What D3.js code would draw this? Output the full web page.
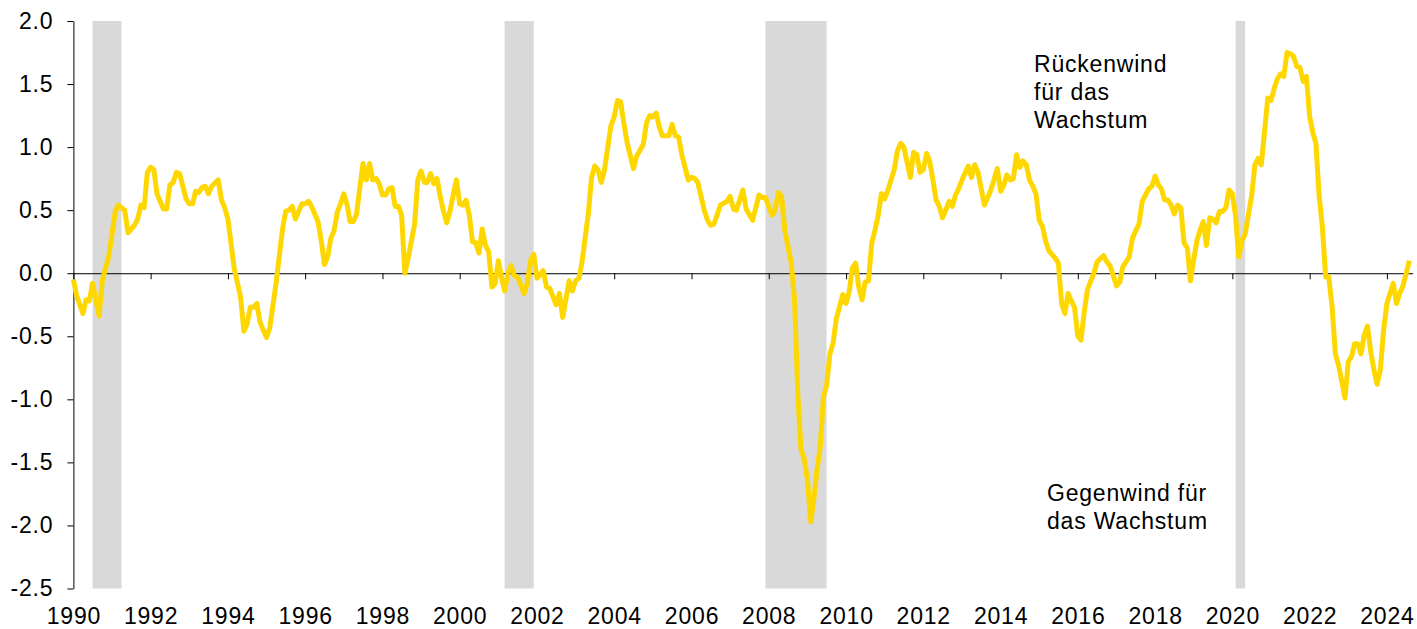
<!DOCTYPE html>
<html>
<head>
<meta charset="utf-8">
<script src="https://cdn.jsdelivr.net/npm/d3@7"></script>
<style>
  html, body { margin: 0; padding: 0; background: #fff; }
  svg { display: block; font-family: "Liberation Sans", Arial, sans-serif; }
  .axis text { font-size: 23px; letter-spacing: 0.8px; fill: #000; }
  .axis path, .axis line { stroke: #000; }
  .note { font-size: 23px; letter-spacing: 0.8px; fill: #000; }
</style>
</head>
<body>
<div id="chart"></div>
<script>
// monthly readings (gaps are straight segments between read points)
const months = [
  '1990-01','1990-02','1990-04','1990-05','1990-06','1990-07','1990-09','1990-10','1990-11','1990-12',
  '1991-02','1991-03','1991-05','1991-06','1991-08','1991-09','1991-10','1991-11','1991-12',
  '1992-01','1992-02','1992-03','1992-05','1992-06','1992-07','1992-08','1992-09','1992-10','1992-12',
  '1993-01','1993-02','1993-03','1993-04','1993-05','1993-06','1993-07','1993-08','1993-10','1993-11','1993-12',
  '1994-01','1994-03','1994-05','1994-06','1994-07','1994-08','1994-09','1994-10','1994-11','1994-12',
  '1995-01','1995-02','1995-04','1995-06','1995-07','1995-08','1995-09','1995-10','1995-12',
  '1996-01','1996-02','1996-03','1996-05','1996-06','1996-07','1996-08','1996-09','1996-10','1996-11','1996-12',
  '1997-01','1997-02','1997-03','1997-04','1997-05','1997-06','1997-07','1997-08','1997-09','1997-10','1997-11','1997-12',
  '1998-01','1998-02','1998-03','1998-04','1998-05','1998-06','1998-07','1998-08','1998-09','1998-11','1998-12',
  '1999-01','1999-02','1999-03','1999-04','1999-05','1999-06','1999-07','1999-08','1999-09','1999-10','1999-11','1999-12',
  '2000-01','2000-02','2000-03','2000-04','2000-05','2000-06','2000-07','2000-08','2000-09','2000-10','2000-11','2000-12',
  '2001-01','2001-02','2001-03','2001-04','2001-05','2001-06','2001-07','2001-09','2001-10','2001-11','2001-12',
  '2002-01','2002-03','2002-04','2002-05','2002-07','2002-08','2002-09','2002-11','2002-12',
  '2003-01','2003-02','2003-03','2003-05','2003-06','2003-07','2003-08','2003-09','2003-10','2003-12',
  '2004-01','2004-02','2004-03','2004-04','2004-05','2004-07','2004-08','2004-10','2004-11','2004-12',
  '2005-01','2005-02','2005-03','2005-04','2005-06','2005-07','2005-08','2005-09','2005-10','2005-12',
  '2006-01','2006-02','2006-03','2006-05','2006-06','2006-07','2006-08','2006-10','2006-12',
  '2007-01','2007-02','2007-03','2007-05','2007-06','2007-08','2007-10','2007-11','2007-12',
  '2008-02','2008-03','2008-04','2008-05','2008-06','2008-08','2008-09','2008-10','2008-11','2008-12',
  '2009-01','2009-02','2009-03','2009-04','2009-05','2009-06','2009-07','2009-08','2009-09','2009-10','2009-12',
  '2010-01','2010-02','2010-03','2010-04','2010-05','2010-06','2010-07','2010-08','2010-09','2010-10','2010-11','2010-12',
  '2011-01','2011-02','2011-04','2011-05','2011-06','2011-07','2011-09','2011-10','2011-11','2011-12',
  '2012-01','2012-02','2012-03','2012-04','2012-05','2012-06','2012-07','2012-08','2012-09','2012-10','2012-11','2012-12',
  '2013-01','2013-03','2013-04','2013-05','2013-06','2013-08','2013-09','2013-10','2013-12',
  '2014-01','2014-02','2014-03','2014-04','2014-05','2014-06','2014-07','2014-08','2014-09','2014-10','2014-11','2014-12',
  '2015-01','2015-02','2015-03','2015-04','2015-06','2015-07','2015-08','2015-09','2015-10','2015-11','2015-12',
  '2016-01','2016-02','2016-03','2016-04','2016-06','2016-07','2016-09','2016-10','2016-11',
  '2017-01','2017-02','2017-03','2017-05','2017-06','2017-08','2017-09','2017-10','2017-11','2017-12',
  '2018-01','2018-02','2018-03','2018-04','2018-05','2018-06','2018-07','2018-08','2018-09','2018-10','2018-11','2018-12',
  '2019-01','2019-02','2019-03','2019-04','2019-05','2019-06','2019-07','2019-08','2019-09','2019-10','2019-11','2019-12',
  '2020-01','2020-02','2020-03','2020-04','2020-05','2020-07','2020-08','2020-09','2020-10','2020-11','2020-12',
  '2021-01','2021-02','2021-03','2021-04','2021-05','2021-06','2021-07','2021-08','2021-09','2021-10','2021-11','2021-12',
  '2022-01','2022-02','2022-03','2022-04','2022-05','2022-06','2022-07','2022-08','2022-09','2022-10','2022-11','2022-12',
  '2023-01','2023-02','2023-03','2023-04','2023-05','2023-06','2023-07','2023-08','2023-09','2023-10','2023-11','2023-12',
  '2024-01','2024-03','2024-04','2024-05','2024-06','2024-08'
];

const values = [
  -0.05,-0.18,-0.32,-0.21,-0.22,-0.08,-0.34,-0.06,0.04,0.13,
  0.49,0.54,0.50,0.32,0.38,0.43,0.54,0.52,0.80,
  0.84,0.82,0.63,0.51,0.51,0.70,0.72,0.80,0.79,0.59,
  0.55,0.55,0.65,0.64,0.68,0.69,0.63,0.69,0.74,0.58,0.52,
  0.43,0.04,-0.19,-0.46,-0.40,-0.27,-0.27,-0.24,-0.39,-0.45,
  -0.51,-0.43,-0.08,0.35,0.49,0.50,0.53,0.43,0.55,
  0.55,0.57,0.53,0.41,0.26,0.07,0.13,0.28,0.34,0.49,0.55,
  0.63,0.54,0.41,0.41,0.47,0.68,0.87,0.74,0.87,0.74,0.75,0.71,
  0.62,0.62,0.67,0.68,0.53,0.53,0.46,0.00,0.12,0.39,0.74,
  0.81,0.72,0.72,0.79,0.71,0.75,0.61,0.49,0.40,0.49,0.62,0.74,
  0.55,0.54,0.58,0.46,0.25,0.24,0.16,0.35,0.22,0.17,-0.11,-0.08,
  0.10,-0.04,-0.14,0.00,0.06,-0.02,-0.03,-0.16,-0.08,0.10,0.15,
  -0.04,0.02,-0.11,-0.12,-0.25,-0.16,-0.35,-0.06,-0.14,
  -0.06,-0.04,0.08,0.47,0.76,0.85,0.82,0.72,0.82,1.17,
  1.24,1.37,1.36,1.19,1.04,0.83,0.93,1.02,1.19,1.25,
  1.24,1.27,1.16,1.09,1.09,1.18,1.09,1.08,0.94,0.74,
  0.76,0.75,0.72,0.50,0.42,0.38,0.39,0.54,0.57,
  0.61,0.51,0.50,0.66,0.51,0.42,0.62,0.60,0.60,
  0.46,0.50,0.64,0.61,0.34,0.08,-0.21,-0.95,-1.40,-1.47,
  -1.64,-1.97,-1.80,-1.56,-1.38,-0.98,-0.89,-0.64,-0.55,-0.36,-0.17,
  -0.24,-0.14,0.04,0.08,-0.11,-0.21,-0.07,-0.06,0.24,0.34,0.46,0.63,
  0.59,0.66,0.82,0.97,1.03,1.00,0.76,0.96,0.94,0.80,
  0.82,0.95,0.89,0.74,0.58,0.53,0.44,0.50,0.57,0.53,0.62,0.67,
  0.74,0.85,0.76,0.86,0.80,0.54,0.60,0.66,0.83,
  0.65,0.70,0.78,0.74,0.75,0.94,0.84,0.89,0.86,0.74,0.69,0.63,
  0.42,0.37,0.26,0.18,0.12,0.08,-0.24,-0.32,-0.16,-0.22,-0.27,
  -0.50,-0.53,-0.31,-0.13,0.00,0.09,0.14,0.09,0.06,
  -0.10,-0.07,0.05,0.13,0.28,0.39,0.57,0.62,0.67,0.69,
  0.77,0.70,0.67,0.58,0.58,0.54,0.47,0.54,0.52,0.24,0.20,-0.06,
  0.11,0.26,0.34,0.41,0.22,0.44,0.43,0.40,0.49,0.49,0.52,0.66,
  0.63,0.45,0.13,0.26,0.31,0.61,0.86,0.91,0.86,1.13,1.39,
  1.37,1.47,1.54,1.58,1.56,1.75,1.74,1.72,1.64,1.63,1.52,1.56,
  1.24,1.11,1.03,0.61,0.37,-0.03,-0.03,-0.27,-0.64,-0.73,-0.86,-0.99,
  -0.70,-0.66,-0.56,-0.56,-0.64,-0.49,-0.42,-0.62,-0.77,-0.88,-0.76,-0.45,
  -0.24,-0.08,-0.24,-0.16,-0.10,0.10
];

// US recessions (shaded)
const recessionStart = ['1990-07-01','2001-03-01','2007-12-01','2020-02-01'];
const recessionEnd   = ['1991-04-01','2001-12-01','2009-07-01','2020-05-01'];

const yTicks = [-2.5, -2.0, -1.5, -1.0, -0.5, 0.0, 0.5, 1.0, 1.5, 2.0];
const noteUp = ['Rückenwind', 'für das', 'Wachstum'];
const noteDown = ['Gegenwind für', 'das Wachstum'];

const W = 1417, H = 629;
const parseMonth = d3.timeParse('%Y-%m');
const parseDay = d3.timeParse('%Y-%m-%d');
const data = months.map((m, i) => ({ date: parseMonth(m), value: values[i] }));

const x = d3.scaleTime()
  .domain([parseDay('1990-01-01'), parseDay('2024-09-01')])
  .range([73.4, 1412.7]);
const y = d3.scaleLinear()
  .domain([-2.5, 2.0])
  .range([588.5, 21]);

const svg = d3.select('#chart').append('svg')
  .attr('width', W)
  .attr('height', H);

// Recession bands
svg.append('g').selectAll('rect')
  .data(recessionStart.map((s, i) => [parseDay(s), parseDay(recessionEnd[i])]))
  .join('rect')
  .attr('x', d => x(d[0]))
  .attr('width', d => x(d[1]) - x(d[0]))
  .attr('y', y(2.0))
  .attr('height', y(-2.5) - y(2.0))
  .attr('fill', '#d9d9d9');

// Y axis
svg.append('g')
  .attr('class', 'axis')
  .attr('transform', `translate(${x.range()[0]},0)`)
  .call(d3.axisLeft(y).tickValues(yTicks).tickFormat(d => d.toFixed(1))
    .tickSizeInner(6).tickSizeOuter(0).tickPadding(14));

// Zero line with year ticks
const yearTicks = d3.timeYear.every(2).range(parseDay('1990-01-01'), parseDay('2024-09-01'));
svg.append('g')
  .attr('class', 'axis')
  .attr('transform', `translate(0,${y(0)})`)
  .call(d3.axisBottom(x).tickValues(yearTicks).tickFormat('')
    .tickSizeInner(6).tickSizeOuter(0))
  .call(g => g.selectAll('text').remove());

// Year labels below the plot
svg.append('g')
  .attr('class', 'axis')
  .attr('transform', `translate(0,${y(-2.5)})`)
  .call(d3.axisBottom(x).tickValues(yearTicks).tickFormat(d3.timeFormat('%Y'))
    .tickSize(0).tickPadding(19))
  .call(g => g.select('.domain').remove());

// Series line
const line = d3.line()
  .x(d => x(d.date))
  .y(d => y(d.value));

svg.append('path')
  .datum(data)
  .attr('fill', 'none')
  .attr('stroke', '#ffd700')
  .attr('stroke-width', 5)
  .attr('stroke-linejoin', 'round')
  .attr('d', line);

// Annotations
svg.append('text').attr('class', 'note')
  .selectAll('tspan').data(noteUp).join('tspan')
  .attr('x', 1034).attr('y', (d, i) => 72 + i * 28)
  .text(d => d);

svg.append('text').attr('class', 'note')
  .selectAll('tspan').data(noteDown).join('tspan')
  .attr('x', 1047).attr('y', (d, i) => 501 + i * 28)
  .text(d => d);
</script>
</body>
</html>
